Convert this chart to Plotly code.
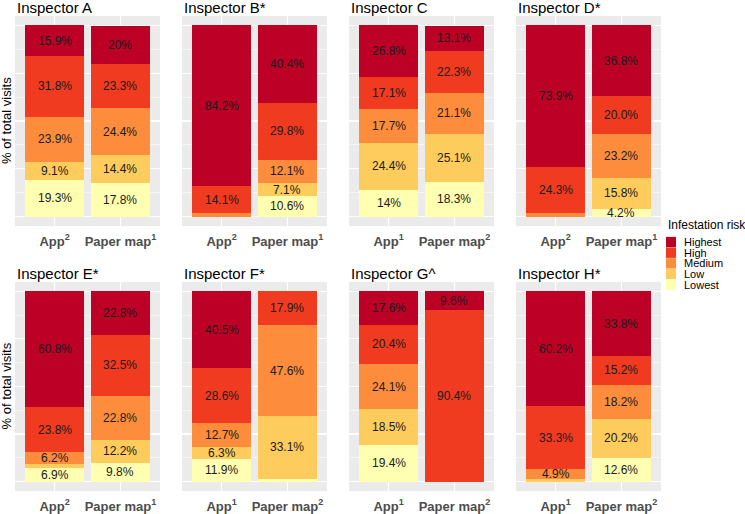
import plotly.graph_objects as go

# ---------------- data ----------------
inspectors = ["Inspector A", "Inspector B*", "Inspector C", "Inspector D*",
              "Inspector E*", "Inspector F*", "Inspector G^", "Inspector H*"]
app_sup = ["2", "2", "1", "2", "2", "1", "1", "1"]
paper_sup = ["1", "1", "2", "1", "1", "2", "2", "2"]

levels = ["Lowest", "Low", "Medium", "High", "Highest"]  # stacking order, bottom -> top
legend_order = ["Highest", "High", "Medium", "Low", "Lowest"]
colors = {"Lowest": "#FFFFB2", "Low": "#FECC5C", "Medium": "#FD8D3C",
          "High": "#F03B20", "Highest": "#BD0026"}

app_lowest = [19.3, 0, 14, 0, 6.9, 11.9, 19.4, 0]
app_low = [9.1, 0, 24.4, 0, 2.3, 6.3, 18.5, 1.6]
app_medium = [23.9, 1.7, 17.7, 1.8, 6.2, 12.7, 24.1, 4.9]
app_high = [31.8, 14.1, 17.1, 24.3, 23.8, 28.6, 20.4, 33.3]
app_highest = [15.9, 84.2, 26.8, 73.9, 60.8, 40.5, 17.6, 60.2]

paper_lowest = [17.8, 10.6, 18.3, 4.2, 9.8, 1.4, 0, 12.6]
paper_low = [14.4, 7.1, 25.1, 15.8, 12.2, 33.1, 0, 20.2]
paper_medium = [24.4, 12.1, 21.1, 23.2, 22.8, 47.6, 0, 18.2]
paper_high = [23.3, 29.8, 22.3, 20.0, 32.5, 17.9, 90.4, 15.2]
paper_highest = [20, 40.4, 13.1, 36.8, 22.8, 0, 9.6, 33.8]

app = {"Lowest": app_lowest, "Low": app_low, "Medium": app_medium,
       "High": app_high, "Highest": app_highest}
paper = {"Lowest": paper_lowest, "Low": paper_low, "Medium": paper_medium,
         "High": paper_high, "Highest": paper_highest}

label_min = 3  # segments smaller than this carry no label

# ---------------- layout geometry ----------------
W, H = 745, 514
FONT = "Liberation Sans, Arial, Helvetica, sans-serif"
panel_lefts = [15, 182, 349, 516]
panel_w = 145
rows = [(16, 227), (283, 493)]


def xd(l, r):
    return [l / W, r / W]


def yd(t, b):
    return [1 - b / H, 1 - t / H]


fig = go.Figure()
annotations = []
shapes = []

for i, name in enumerate(inspectors):
    r, c = divmod(i, 4)
    n = i + 1
    xa = "x" if n == 1 else f"x{n}"
    ya = "y" if n == 1 else f"y{n}"
    cum = [0.0, 0.0]
    for lev in levels:
        vals = [app[lev][i], paper[lev][i]]
        fig.add_trace(go.Bar(
            x=[1, 2], y=vals, width=0.9, xaxis=xa, yaxis=ya,
            marker=dict(color=colors[lev], line=dict(width=0)),
            name=lev, showlegend=False, hoverinfo="skip"))
        for k, v in enumerate(vals):
            if v >= label_min:
                annotations.append(dict(
                    x=k + 1, y=cum[k] + v / 2, xref=xa, yref=ya,
                    text=f"{v}%", showarrow=False,
                    font=dict(family=FONT, size=12, color="#1a1a1a")))
            cum[k] += v

    l = panel_lefts[c]
    t, b = rows[r]
    axn = "" if n == 1 else str(n)
    fig.layout["xaxis" + axn] = dict(
        domain=xd(l, l + panel_w), anchor=ya, range=[0.4, 2.6],
        tickvals=[1, 2],
        ticktext=[f"App<sup>{app_sup[i]}</sup>", f"Paper map<sup>{paper_sup[i]}</sup>"],
        tickfont=dict(family=FONT, size=13, color="#4D4D4D", weight="bold"),
        ticks="outside", ticklen=3, tickcolor="rgba(0,0,0,0)",
        showgrid=True, gridcolor="white", gridwidth=1.1,
        zeroline=False, showline=False, fixedrange=True)
    fig.layout["yaxis" + axn] = dict(
        domain=yd(t, b), anchor=xa, range=[-5, 105],
        tickvals=[0, 25, 50, 75, 100], showticklabels=False, ticks="",
        showgrid=True, gridcolor="white", gridwidth=1.1,
        minor=dict(tickvals=[12.5, 37.5, 62.5, 87.5], showgrid=True,
                   gridcolor="white", gridwidth=0.55, ticks=""),
        zeroline=False, showline=False, fixedrange=True)

    # panel title
    annotations.append(dict(
        x=l / W, y=1 - (t - 8) / H, xref="paper", yref="paper",
        text=name, showarrow=False, xanchor="left", yanchor="middle",
        font=dict(family=FONT, size=15, color="black")))

# y-axis titles (left column only)
for t, b in rows:
    annotations.append(dict(
        x=6 / W, y=1 - ((t + b) / 2) / H, xref="paper", yref="paper",
        text="% of total visits", textangle=-90, showarrow=False,
        xanchor="center", yanchor="middle",
        font=dict(family=FONT, size=13, color="black")))

# legend (drawn manually to match compact ggplot keys)
leg_x = 666
annotations.append(dict(
    x=leg_x / W, y=1 - 226 / H, xref="paper", yref="paper",
    text="Infestation risk", showarrow=False, xanchor="left", yanchor="middle",
    font=dict(family=FONT, size=12, color="black")))
for j, lev in enumerate(legend_order):
    cy = 243 + j * 10.7
    shapes.append(dict(
        type="rect", xref="paper", yref="paper",
        x0=leg_x / W, x1=(leg_x + 10) / W,
        y0=1 - (cy + 5.2) / H, y1=1 - (cy - 5.2) / H,
        fillcolor=colors[lev], line=dict(width=0)))
    annotations.append(dict(
        x=(leg_x + 16) / W, y=1 - cy / H, xref="paper", yref="paper",
        text=lev, showarrow=False, xanchor="left", yanchor="middle",
        font=dict(family=FONT, size=11, color="black")))

fig.update_layout(
    width=W, height=H, margin=dict(l=0, r=0, t=0, b=0),
    barmode="stack", bargap=0,
    plot_bgcolor="#EBEBEB", paper_bgcolor="white",
    annotations=annotations, shapes=shapes, showlegend=False,
    font=dict(family=FONT))

fig.write_html(
    "out.html",
    config={"displayModeBar": False, "staticPlot": True},
    post_script="document.body.style.margin='0';document.body.style.padding='0';"
                "document.body.style.overflow='hidden';")
